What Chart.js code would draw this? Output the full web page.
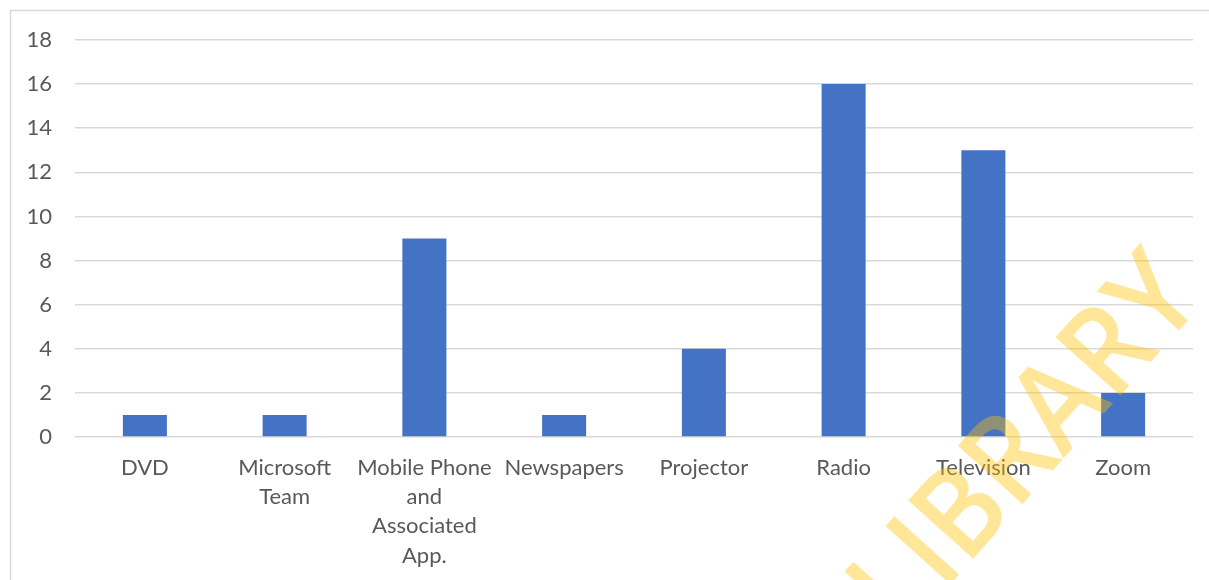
<!DOCTYPE html>
<html>
<head>
<meta charset="utf-8">
<script src="https://cdn.jsdelivr.net/npm/chart.js@4"></script>
<style>
  html, body { margin: 0; padding: 0; background: #fff; }
  #wrap { position: absolute; left: 0; top: 0; width: 1209px; height: 580px; }
</style>
</head>
<body>
<div id="wrap"><canvas id="media-chart"></canvas></div>
<script>
"use strict";

/* --- DATA --- */

const categories = [
  'DVD',
  ['Microsoft', 'Team'],
  ['Mobile Phone', 'and', 'Associated', 'App.'],
  'Newspapers',
  'Projector',
  'Radio',
  'Television',
  'Zoom',
];
const counts = [1, 1, 9, 1, 4, 16, 13, 2];
const y_ticks = [0, 2, 4, 6, 8, 10, 12, 14, 16, 18];
const watermark_text = 'LIBRARY';

/* --- PLUGINS --- */

// thin grey frame, only top and left edges show in the picture
const frame_plugin = {
  id: 'frame',
  beforeDraw(chart) {
    const ctx = chart.ctx;
    ctx.save();
    ctx.strokeStyle = '#d9d9d9';
    ctx.lineWidth = 1.5;
    ctx.beginPath();
    ctx.moveTo(10.5, chart.height + 5);
    ctx.lineTo(10.5, 10.5);
    ctx.lineTo(chart.width + 5, 10.5);
    ctx.stroke();
    ctx.restore();
  }
};

// diagonal semi-transparent watermark on top of everything
const watermark_plugin = {
  id: 'watermark',
  afterDraw(chart) {
    const ctx = chart.ctx;
    ctx.save();
    ctx.translate(1054, 469);
    ctx.rotate(-48 * Math.PI / 180);
    ctx.scale(0.92, 1);
    ctx.font = '600 122px "Open Sans"';
    ctx.textAlign = 'center';
    ctx.textBaseline = 'alphabetic';
    ctx.fillStyle = 'rgba(255, 192, 0, 0.4)';
    ctx.fillText(watermark_text, 0, 0);
    ctx.restore();
  }
};

/* --- CHART --- */

const media_chart_el = document.getElementById('media-chart');

let media_chart = new Chart(media_chart_el, {
  type: 'bar',
  data: {
    labels: categories,
    datasets: [{
      label: 'Count',
      data: counts,
      backgroundColor: '#4472c4',
      borderWidth: 0,
      categoryPercentage: 1,
      barPercentage: 0.315,
    }]
  },
  options: {
    responsive: true,
    maintainAspectRatio: false,
    animation: false,
    layout: {
      padding: { left: 0, top: 40, right: 16, bottom: 0 }
    },
    plugins: {
      legend: { display: false },
      tooltip: { enabled: false },
      title: { display: false }
    },
    scales: {
      x: {
        grid: { display: false, drawTicks: false },
        border: { display: false },
        ticks: {
          color: '#595959',
          font: { family: 'Lato', size: 22, lineHeight: 1.33 },
          padding: 16,
          maxRotation: 0,
          autoSkip: false,
        },
        afterFit(scale) { scale.height = 143; }
      },
      y: {
        min: 0,
        max: 18,
        afterBuildTicks(scale) {
          scale.ticks = y_ticks.map(v => ({ value: v }));
        },
        grid: { color: '#d9d9d9', lineWidth: 1.5, drawTicks: false },
        border: { display: false },
        ticks: {
          color: '#595959',
          font: { family: 'Lato', size: 22 },
          padding: 23,
        },
        afterFit(scale) { scale.width = 75; }
      }
    }
  },
  plugins: [frame_plugin, watermark_plugin]
});
</script>
</body>
</html>
